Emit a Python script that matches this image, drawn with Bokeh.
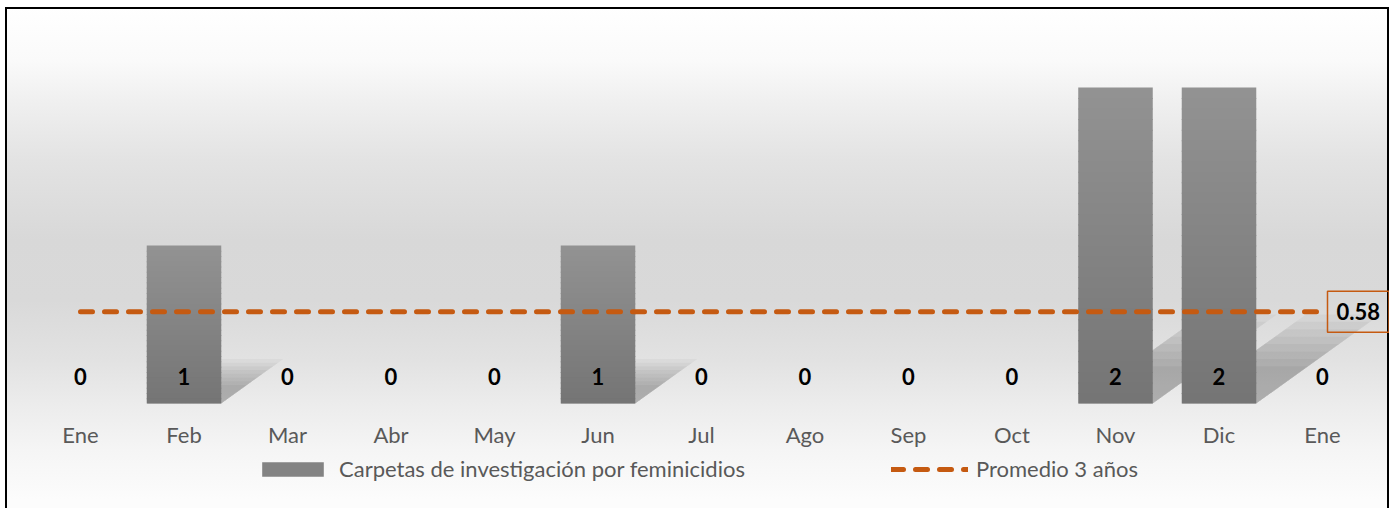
import numpy as np
from bokeh.plotting import figure
from bokeh.layouts import column
from bokeh.models import (ColumnDataSource, Legend, LegendItem,
                          LabelSet, Label, Range1d)
from bokeh.core.properties import value
from bokeh.embed import file_html
from bokeh.resources import INLINE

# ---------------- data ----------------
months = ["Ene", "Feb", "Mar", "Abr", "May", "Jun", "Jul", "Ago",
          "Sep", "Oct", "Nov", "Dic", "Ene"]
carpetas = [0, 1, 0, 0, 0, 1, 0, 0, 0, 0, 2, 2, 0]
promedio = 0.58
bar_name = "Carpetas de investigación por feminicidios"
line_name = "Promedio 3 años"

# ---------------- layout constants ----------------
BOX_W, BOX_H = 1384, 501
PX_PER_CAT = 103.5
FIRST_CENTER = 75            # px from box left
PX_PER_UNIT = 158.0
TOP_BORDER = 10
BASE_Y = 396                 # px from box top where value 0 sits
FRAME_H = BOX_H - TOP_BORDER
x_start = -FIRST_CENTER / PX_PER_CAT
x_end = x_start + BOX_W / PX_PER_CAT
y_start = -(BOX_H - BASE_Y) / PX_PER_UNIT
y_end = (BASE_Y - TOP_BORDER) / PX_PER_UNIT

ORANGE = "#C55A11"
FONT = "Lato"
BAR_W = 0.72

xs = np.arange(len(months))

p = figure(frame_width=BOX_W, frame_height=FRAME_H,
           x_range=Range1d(x_start, x_end), y_range=Range1d(y_start, y_end),
           output_backend="svg", toolbar_location=None,
           x_axis_location=None, y_axis_location=None,
           min_border_left=0, min_border_right=0,
           min_border_top=TOP_BORDER, min_border_bottom=0)
p.background_fill_alpha = 0
p.border_fill_alpha = 0
p.outline_line_color = None
p.xgrid.visible = False
p.ygrid.visible = False

# ---------------- soft shadows ----------------
SH_DX = 0.5    # x-units per value
SH_DY = 0.235  # y-units per value
for s in [1.2, 1.1, 1.0, 0.9, 0.8, 0.7, 0.6, 0.5]:
    sx, sy = [], []
    for x, v in zip(xs, carpetas):
        if v <= 0:
            continue
        l, r = x - BAR_W / 2, x + BAR_W / 2
        dx, dy = SH_DX * v * s, SH_DY * v * s
        sx.append([l, r, r + dx, l + dx])
        sy.append([0, 0, dy, dy])
    p.patches(sx, sy, fill_color="black", fill_alpha=0.036, line_color=None)

# ---------------- bars (vertical gradient in bands, top band first) -------
N = 30
OVERLAP = 1.0 / PX_PER_UNIT
top_c = np.array([0x93, 0x93, 0x93])
bot_c = np.array([0x75, 0x75, 0x75])
bx, bb, bt, bc = [], [], [], []
for k in range(N, 0, -1):
    f = (k - 0.5) / N
    c = (bot_c + (top_c - bot_c) * f).astype(int)
    for x, v in zip(xs, carpetas):
        if v <= 0:
            continue
        bx.append(x)
        bb.append(max(0.0, v * (k - 1) / N - OVERLAP))
        bt.append(v * k / N)
        bc.append("#%02x%02x%02x" % tuple(c))
bar_src = ColumnDataSource(dict(x=bx, bottom=bb, top=bt, color=bc))
bars_r = p.vbar(x="x", bottom="bottom", top="top", width=BAR_W,
                fill_color="color", line_color=None, source=bar_src)
mid_index = len(bx) // 2

# ---------------- average line ----------------
line_r = p.line([xs[0], xs[-1]], [promedio, promedio], line_color=ORANGE,
                line_width=5, line_dash="12 12", line_cap="round")

# ---------------- value labels & month labels ----------------
lab_src = ColumnDataSource(dict(x=xs, y=[0] * len(xs),
                                t=[str(v) for v in carpetas], m=months))
p.add_layout(LabelSet(x="x", y="y", text="t", source=lab_src,
                      y_offset=27, text_align="center", text_baseline="middle",
                      text_font=value(FONT), text_font_style="bold",
                      text_font_size="22px", text_color="#000000"))
p.add_layout(LabelSet(x="x", y="y", text="m", source=lab_src,
                      y_offset=-31, text_align="center", text_baseline="middle",
                      text_font=value(FONT), text_font_size="22px",
                      text_color="#595959"))

avg_label = Label(x=xs[-1], y=promedio, text=f"{promedio:.2f}",
                  x_offset=5, text_align="left", text_baseline="middle",
                  text_font=FONT, text_font_style="bold",
                  text_font_size="22px", text_color="#000000",
                  border_line_color=ORANGE, border_line_width=1.5,
                  background_fill_alpha=0, padding=(9, 12))
p.add_layout(avg_label)

# ---------------- legend ----------------
legend = Legend(items=[LegendItem(label=bar_name, renderers=[bars_r],
                                  index=mid_index),
                       LegendItem(label=line_name, renderers=[line_r])],
                orientation="horizontal", location=(249, 26),
                glyph_width=77, glyph_height=18, label_standoff=8,
                spacing=146, padding=0, margin=0,
                label_text_font=FONT, label_text_font_size="22px",
                label_text_color="#595959",
                background_fill_alpha=0, border_line_color=None)
p.add_layout(legend)

page = column(p, width=BOX_W, height=BOX_H, margin=(7, 0, 0, 5),
              styles={
                  "background": (
                      "linear-gradient(to bottom, #ffffff 0px, #fafafa 53px, "
                      "#f0f0f0 93px, #e3e3e3 153px, #d8d8d8 233px, "
                      "#d9d9d9 293px, #e2e2e2 353px, #ebebeb 393px, "
                      "#f5f5f5 443px, #fcfcfc 493px)"),
                  "box-shadow": "inset 2px 2px 0 0 #000, inset -2px 0 0 0 #000",
              })

open("out.html", "w").write(file_html(page, INLINE))
